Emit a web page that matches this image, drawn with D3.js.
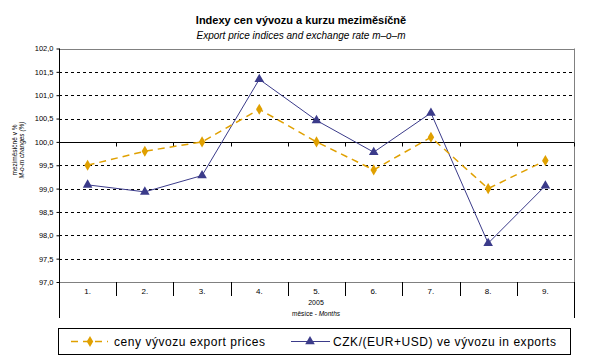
<!DOCTYPE html>
<html><head><meta charset="utf-8">
<script src="https://cdn.jsdelivr.net/npm/d3@7/dist/d3.min.js"></script>
<style>body{margin:0;background:#fff}svg{display:block;font-family:"Liberation Sans",Arial,sans-serif}</style>
</head><body><svg id="c" width="602" height="360"></svg>
<script>
const months = ["1.","2.","3.","4.","5.","6.","7.","8.","9."];
const exportPrices = [99.5,99.8,100.0,100.7,100.0,99.4,100.1,99.0,99.6];
const exchangeRate = [99.08,98.93,99.28,101.34,100.46,99.78,100.62,97.83,99.06];
const yTicks = [97.0,97.5,98.0,98.5,99.0,99.5,100.0,100.5,101.0,101.5,102.0];
const seriesNames = ["ceny vývozu export prices","CZK/(EUR+USD) ve vývozu in exports"];

const svg = d3.select("#c");
const L=59,R=574,T=48.5,B=282,AX=318;
const x = d3.scaleBand().domain(months).range([L,R]).paddingInner(0).paddingOuter(0);
const y = d3.scaleLinear().domain([97,102]).range([B,T]);
const fmt = v => d3.format(".1f")(v).replace(".",",");

// titles
svg.append("text").attr("x",301).attr("y",24).attr("text-anchor","middle")
  .attr("font-size",11).attr("font-weight","bold").text("Indexy cen vývozu a kurzu meziměsíčně");
svg.append("text").attr("x",301).attr("y",39).attr("text-anchor","middle")
  .attr("font-size",10).attr("font-style","italic").text("Export price indices and exchange rate m–o–m");

// grid
const g = svg.append("g");
g.selectAll("line.grid").data(yTicks.filter(v=>v!==97&&v!==102&&v!==100)).join("line")
  .attr("x1",L).attr("x2",R).attr("y1",d=>Math.round(y(d))+0.5).attr("y2",d=>Math.round(y(d))+0.5)
  .attr("stroke","#000").attr("stroke-dasharray","3,3");
// frame gray
g.append("line").attr("x1",L).attr("x2",R).attr("y1",Math.round(T)+0.5).attr("y2",Math.round(T)+0.5).attr("stroke","#808080");
g.append("line").attr("x1",L).attr("x2",R).attr("y1",B+0.5).attr("y2",B+0.5).attr("stroke","#808080");
g.append("line").attr("x1",R+0.5).attr("x2",R+0.5).attr("y1",T).attr("y2",B).attr("stroke","#808080");
// 100 line
const y100 = Math.round(y(100))+0.5;
g.append("line").attr("x1",L).attr("x2",R).attr("y1",y100).attr("y2",y100).attr("stroke","#000");
const bounds = months.map(m=>x(m)).concat([R]).slice(1);
g.selectAll("line.t100").data(bounds).join("line")
  .attr("x1",d=>Math.round(d)+0.5).attr("x2",d=>Math.round(d)+0.5).attr("y1",y100).attr("y2",y100+4).attr("stroke","#000");
// category separators
g.selectAll("line.sep").data(bounds.slice(0,-1)).join("line")
  .attr("x1",d=>Math.round(d)+0.5).attr("x2",d=>Math.round(d)+0.5).attr("y1",B).attr("y2",B+14).attr("stroke","#000");
g.append("line").attr("x1",R+0.5).attr("x2",R+0.5).attr("y1",B).attr("y2",AX).attr("stroke","#000");

// y axis
const yAxis = d3.axisLeft(y).tickValues(yTicks).tickFormat(fmt).tickSize(3).tickPadding(3);
const ya = svg.append("g").attr("transform",`translate(${L+0.5},0)`).call(yAxis);
ya.select(".domain").remove();
ya.append("line").attr("x1",0).attr("x2",0).attr("y1",T).attr("y2",AX).attr("stroke","#000");
ya.selectAll("text").attr("font-size",7.5).attr("fill","#000").attr("font-family","Liberation Sans,Arial,sans-serif");

// category labels
svg.append("g").selectAll("text").data(months).join("text")
  .attr("x",d=>x(d)+x.bandwidth()/2).attr("y",294).attr("text-anchor","middle")
  .attr("font-size",8).text(d=>d);
svg.append("text").attr("x",316).attr("y",305).attr("text-anchor","middle").attr("font-size",7).text("2005");
const mt = svg.append("text").attr("x",316).attr("y",316).attr("text-anchor","middle").attr("font-size",6.5);
mt.append("tspan").text("měsíce - ");
mt.append("tspan").attr("font-style","italic").text("Months");

// y title
const yt = svg.append("g").attr("transform","translate(17,150) rotate(-90)");
yt.append("text").attr("text-anchor","middle").attr("font-size",6.5).text("meziměsíčně v %");
yt.append("text").attr("y",7).attr("text-anchor","middle").attr("font-size",6.5).attr("font-style","italic").text("M-o-m changes (%)");

// series
const orange="#E0A000", navy="#3B3B8A";
const line = d3.line().x((d,i)=>x(months[i])+x.bandwidth()/2).y(d=>y(d));
svg.append("path").datum(exchangeRate).attr("d",line).attr("fill","none").attr("stroke",navy).attr("stroke-width",1);
svg.append("path").datum(exportPrices).attr("d",line).attr("fill","none").attr("stroke",orange).attr("stroke-width",1.5).attr("stroke-dasharray","7,5");
const tri = d3.symbol().type(d3.symbolTriangle).size(40);
const dia = d3.symbol().type(d3.symbolDiamond).size(36);
svg.append("g").selectAll("path").data(exchangeRate).join("path")
  .attr("transform",(d,i)=>`translate(${x(months[i])+x.bandwidth()/2},${y(d)})`).attr("d",tri).attr("fill",navy);
svg.append("g").selectAll("path").data(exportPrices).join("path")
  .attr("transform",(d,i)=>`translate(${x(months[i])+x.bandwidth()/2},${y(d)})`).attr("d",dia).attr("fill",orange);

// legend
svg.append("rect").attr("x",58.5).attr("y",328.5).attr("width",512).attr("height",26).attr("fill","none").attr("stroke","#000");
const ly=341.5;
svg.append("line").attr("x1",71).attr("x2",108).attr("y1",ly).attr("y2",ly).attr("stroke",orange).attr("stroke-width",1.5).attr("stroke-dasharray","7,5");
svg.append("path").attr("transform",`translate(90,${ly})`).attr("d",dia).attr("fill",orange);
svg.append("text").attr("x",114).attr("y",346).attr("font-size",12).attr("textLength",151).attr("lengthAdjust","spacing").text(seriesNames[0]);
svg.append("line").attr("x1",291).attr("x2",330).attr("y1",ly).attr("y2",ly).attr("stroke",navy).attr("stroke-width",1);
svg.append("path").attr("transform",`translate(310,${ly})`).attr("d",tri).attr("fill",navy);
svg.append("text").attr("x",333).attr("y",346).attr("font-size",12).attr("textLength",223).attr("lengthAdjust","spacing").text(seriesNames[1]);
</script></body></html>
